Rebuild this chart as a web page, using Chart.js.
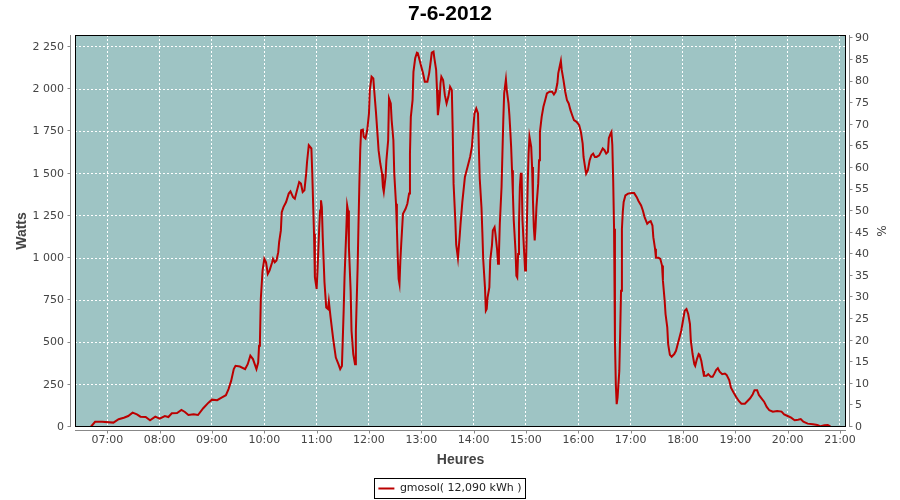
<!DOCTYPE html>
<html><head><meta charset="utf-8">
<script src="https://cdn.jsdelivr.net/npm/chart.js@4/dist/chart.umd.min.js"></script>
<style>html,body{margin:0;padding:0;background:#fff}</style>
</head><body>
<canvas id="c" width="900" height="500"></canvas>
<script>
const chartTitle = '7-6-2012';
const seriesLabel = 'gmosol( 12,090 kWh )';
const xAxisTitle = 'Heures';
const yAxisTitle = 'Watts';
const y2AxisTitle = '%';

const times = [
'06:41','06:46','06:54','07:07','07:13','07:19','07:24','07:29','07:34','07:38','07:44','07:49','07:55',
'08:00','08:06','08:10','08:14','08:20','08:25','08:29','08:33','08:39','08:44','08:50','08:56',
'09:00','09:06','09:11','09:16','09:19','09:22','09:25','09:27','09:32','09:38','09:41','09:44','09:47','09:51','09:53','09:54','09:55','09:56','09:58',
'10:00','10:02','10:04','10:06','10:09','10:10','10:12','10:14','10:16','10:17','10:19','10:20','10:22','10:25','10:28','10:30','10:33','10:35','10:37','10:40','10:42','10:44','10:46','10:48','10:49','10:51','10:54','10:55','10:56','10:57','10:58',
'11:00','11:01','11:02','11:03','11:04','11:05','11:06','11:07','11:09','11:11','11:13','11:14','11:16','11:19','11:22','11:25','11:27','11:29','11:31','11:32','11:34','11:35','11:36','11:37','11:39','11:40','11:42','11:44','11:45','11:47','11:48','11:49','11:50','11:51','11:53','11:54','11:56','11:58',
'12:00','12:01','12:03','12:05','12:06','12:08','12:10','12:11','12:13','12:15','12:16','12:17','12:19','12:20','12:22','12:23','12:25','12:26','12:28','12:29','12:31','12:32','12:33','12:34','12:35','12:36','12:37','12:39','12:42','12:44','12:46','12:47','12:48','12:50','12:51','12:53','12:55','12:56','12:58',
'13:00','13:02','13:04','13:07','13:09','13:11','13:12','13:14','13:15','13:17','13:18','13:19','13:21','13:22','13:23','13:25','13:27','13:29','13:31','13:33','13:35','13:36','13:37','13:39','13:40','13:42','13:44','13:45','13:47','13:50','13:53','13:56','13:58','13:59',
'14:01','14:03','14:05','14:06','14:07','14:09','14:10','14:11','14:13','14:14','14:15','14:16','14:18','14:19','14:21','14:22','14:24','14:25','14:27','14:28','14:29','14:30','14:32','14:33','14:34','14:35','14:37','14:38','14:40','14:41','14:42','14:43','14:44','14:45','14:46','14:48','14:49','14:50','14:51','14:52','14:53','14:54','14:55','14:56','14:58','14:59',
'15:00','15:01','15:02','15:03','15:04','15:06','15:07','15:08','15:09','15:10','15:11','15:12','15:14','15:15','15:16','15:18','15:20','15:22','15:24','15:27','15:30','15:32','15:34','15:36','15:37','15:39','15:40','15:41','15:43','15:45','15:47','15:49','15:51','15:53','15:55','15:58',
'16:01','16:03','16:05','16:06','16:08','16:09','16:11','16:13','16:15','16:17','16:19','16:21','16:24','16:26','16:28','16:30','16:32','16:34','16:35','16:37','16:38','16:39','16:40','16:41','16:42','16:43','16:44','16:45','16:47','16:48','16:49','16:50','16:51','16:52','16:54','16:57',
'17:01','17:04','17:07','17:09','17:12','17:14','17:16','17:19','17:21','17:23','17:25','17:26','17:28','17:29','17:32','17:34','17:36','17:37','17:39','17:40','17:42','17:43','17:45','17:47','17:50','17:52','17:54','17:56','17:58',
'18:00','18:02','18:04','18:06','18:08','18:09','18:11','18:13','18:14','18:16','18:18','18:19','18:21','18:23','18:24','18:27','18:29','18:32','18:34','18:36','18:38','18:40','18:42','18:45','18:48','18:50','18:53','18:55','18:58',
'19:01','19:04','19:07','19:11','19:14','19:17','19:20','19:22','19:25','19:27','19:30','19:33','19:36','19:39','19:43','19:48','19:53','19:56',
'20:00','20:04','20:08','20:12','20:15','20:18','20:23','20:29','20:34','20:38','20:42','20:46','20:49'
];

const watts = [
0,31,31,26,46,55,65,85,75,61,59,40,61,
49,65,59,81,83,101,89,71,75,71,111,144,
162,159,174,188,224,273,343,362,358,343,372,422,402,343,382,481,511,758,926,
996,975,907,926,975,996,975,986,1035,1094,1164,1272,1302,1332,1382,1395,1361,1352,1391,1450,1441,1391,1401,1500,1569,1668,1649,1500,1322,1144,887,
818,926,1055,1183,1282,1342,1302,1124,857,708,699,744,649,521,411,372,343,362,689,886,1164,1312,1282,1065,807,570,432,372,570,946,1200,1440,1640,1757,1761,1718,1708,1757,
1856,1995,2074,2064,1995,1866,1718,1639,1560,1500,1421,1391,1480,1579,1698,1946,1916,1817,1698,1500,1322,1183,1005,877,847,986,1085,1263,1292,1322,1382,1619,1836,1935,2103,2183,2216,2213,2173,
2133,2094,2044,2044,2094,2173,2216,2222,2183,2114,1995,1846,1935,2035,2074,2054,1965,1916,1955,2014,1995,1757,1441,1223,1080,1000,1130,1203,1330,1480,1540,1600,1658,1728,
1857,1886,1856,1650,1470,1300,1154,990,827,689,699,768,827,986,1075,1164,1183,1144,1045,966,1025,1203,1421,1619,1817,1975,2058,1995,1916,1846,1757,1658,1520,1382,1223,1045,896,886,1025,1203,1421,1500,1500,1223,1025,926,
946,1183,1441,1619,1718,1658,1540,1342,1183,1104,1183,1302,1441,1579,1747,1836,1896,1935,1975,1985,1985,1969,1985,2035,2094,2143,2167,2114,2054,1985,1935,1916,1876,1846,1817,1807,
1787,1747,1678,1599,1530,1500,1520,1579,1609,1619,1599,1599,1609,1629,1649,1639,1619,1629,1710,1737,1747,1670,1460,1174,511,254,135,174,332,560,807,1174,1273,1332,1371,1382,
1385,1385,1361,1338,1312,1282,1243,1203,1213,1219,1193,1124,1055,1002,1002,996,956,867,748,669,590,491,427,416,432,451,491,530,570,
629,689,699,669,610,511,432,372,362,402,432,427,392,332,303,303,313,297,297,316,337,348,328,313,316,309,278,233,204,
178,154,138,138,154,170,194,218,218,190,170,150,119,99,91,95,91,75,
65,55,40,43,47,31,20,16,12,4,10,12,4
];

const hourTicks = [7,8,9,10,11,12,13,14,15,16,17,18,19,20,21];
const wattTicks = [0,250,500,750,1000,1250,1500,1750,2000,2250];
const pctTicks = [0,5,10,15,20,25,30,35,40,45,50,55,60,65,70,75,80,85,90];

const toHours = s => { const [h, m] = s.split(':').map(Number); return h + m / 60; };
const pad2 = n => String(n).padStart(2, '0');
const fmtWatts = v => v >= 1000 ? Math.floor(v / 1000) + ' ' + String(v % 1000).padStart(3, '0') : String(v);

const points = times.map((t, i) => ({ x: toHours(t), y: watts[i] }));

const tickFont = { family: 'DejaVu Sans', size: 11 };
const tickColor = '#444';

const decor = {
  id: 'decor',
  beforeDraw(chart) {
    const { ctx, chartArea: a } = chart;
    ctx.save();
    ctx.fillStyle = '#9EC4C4';
    ctx.fillRect(a.left, a.top, a.right - a.left, a.bottom - a.top);
    ctx.restore();
  },
  afterDraw(chart) {
    const { ctx, chartArea: a, scales } = chart;
    ctx.save();
    ctx.lineWidth = 1;
    ctx.strokeStyle = '#000';
    ctx.strokeRect(a.left + 0.5, a.top + 0.5, a.right - a.left - 1, a.bottom - a.top - 1);
    ctx.strokeStyle = '#888';
    ctx.beginPath();
    const lx = a.left - 4.5, rx = a.right + 3.5, by = a.bottom + 3.5;
    ctx.moveTo(lx, a.top); ctx.lineTo(lx, a.bottom);
    scales.y.ticks.forEach(t => { const p = Math.round(scales.y.getPixelForValue(t.value)) - 0.5; ctx.moveTo(lx - 3, p); ctx.lineTo(lx, p); });
    ctx.moveTo(rx, a.top); ctx.lineTo(rx, a.bottom);
    scales.y2.ticks.forEach(t => { const p = Math.round(scales.y2.getPixelForValue(t.value)) - 0.5; ctx.moveTo(rx, p); ctx.lineTo(rx + 3, p); });
    ctx.moveTo(a.left, by); ctx.lineTo(a.right, by);
    scales.x.ticks.forEach(t => { const p = Math.round(scales.x.getPixelForValue(t.value)) + 0.5; ctx.moveTo(p, by); ctx.lineTo(p, by + 3); });
    ctx.stroke();
    const lg = chart.legend;
    if (lg && lg.legendHitBoxes && lg.legendHitBoxes.length) {
      const h = lg.legendHitBoxes[0];
      ctx.strokeStyle = '#000';
      ctx.strokeRect(Math.round(h.left) - 3.5, Math.round(h.top) - 4.5, Math.round(h.width) + 8, Math.round(h.height) + 9);
    }
    ctx.restore();
  }
};

new Chart(document.getElementById('c'), {
  type: 'line',
  data: {
    datasets: [{
      label: seriesLabel,
      data: points,
      borderColor: '#BB0000',
      backgroundColor: '#BB0000',
      borderWidth: 2,
      pointRadius: 0,
      tension: 0,
      fill: false
    }]
  },
  options: {
    responsive: false,
    animation: false,
    devicePixelRatio: 1,
    layout: { padding: { top: 0, left: 0, right: 0, bottom: -4 } },
    plugins: {
      title: {
        display: true, text: chartTitle, color: '#000',
        font: { family: 'Liberation Sans', size: 21, weight: 'bold' },
        padding: { top: 2, bottom: 7.8 }
      },
      legend: {
        display: true, position: 'bottom',
        labels: {
          usePointStyle: true, pointStyle: 'line', pointStyleWidth: 16,
          color: '#222', font: { family: 'DejaVu Sans', size: 11 }, padding: 5
        }
      },
      tooltip: { enabled: false }
    },
    scales: {
      x: {
        type: 'linear', position: 'bottom',
        min: 6.383, max: 21.115,
        afterBuildTicks: s => { s.ticks = hourTicks.map(v => ({ value: v })); },
        afterFit: s => { s.height = 51; },
        ticks: { autoSkip: false, maxRotation: 0, padding: 7, color: tickColor, font: tickFont,
                 callback: v => pad2(v) + ':00' },
        grid: { color: '#fff', lineWidth: 1, drawTicks: false },
        border: { display: false, dash: [2, 2] },
        title: { display: true, text: xAxisTitle, color: '#444',
                 font: { family: 'Liberation Sans', size: 14, weight: 'bold' }, padding: { top: 0, bottom: 9 } }
      },
      y: {
        type: 'linear', position: 'left',
        min: 0, max: 2321,
        afterBuildTicks: s => { s.ticks = wattTicks.map(v => ({ value: v })); },
        afterFit: s => { s.width = 75; },
        ticks: { padding: 11, color: tickColor, font: tickFont, callback: v => fmtWatts(v) },
        grid: { color: '#fff', lineWidth: 1, drawTicks: false },
        border: { display: false, dash: [2, 2] },
        title: { display: true, text: yAxisTitle, color: '#444',
                 font: { family: 'Liberation Sans', size: 14, weight: 'bold' }, padding: { top: 14, bottom: 0 } }
      },
      y2: {
        type: 'linear', position: 'right',
        min: 0, max: 90.8,
        afterBuildTicks: s => { s.ticks = pctTicks.map(v => ({ value: v })); },
        afterFit: s => { s.width = 54; },
        ticks: { padding: 9, color: tickColor, font: tickFont, callback: v => String(v) },
        grid: { display: false, drawOnChartArea: false, drawTicks: false },
        border: { display: false },
        title: { display: true, text: y2AxisTitle, color: '#444',
                 font: { family: 'DejaVu Sans', size: 12 }, padding: { top: 13, bottom: 0 } }
      }
    }
  },
  plugins: [decor]
});
</script>
</body></html>
